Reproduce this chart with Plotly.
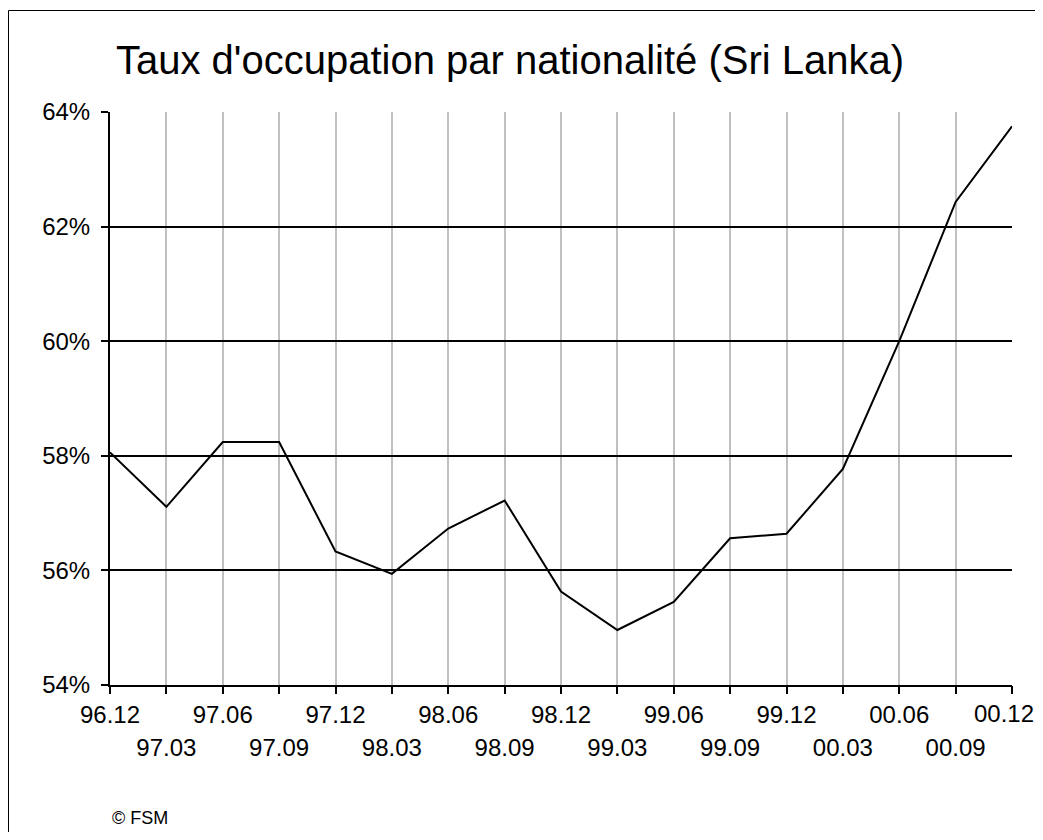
import plotly.graph_objects as go

periods = ["96.12", "97.03", "97.06", "97.09", "97.12", "98.03", "98.06", "98.09",
           "98.12", "99.03", "99.06", "99.09", "99.12", "00.03", "00.06", "00.09", "00.12"]
occupancy = [58.06, 57.11, 58.24, 58.24, 56.33, 55.94, 56.73, 57.22,
             55.63, 54.96, 55.45, 56.56, 56.64, 57.77, 60.00, 62.43, 63.75]
y_ticks = [54, 56, 58, 60, 62, 64]
title_text = "Taux d'occupation par nationalité (Sri Lanka)"
source_text = "© FSM"

# page body has an 8px margin; figure coordinates below are page coords minus 8
W, H = 1027, 824
L, R, T, B = 102, 1004, 104, 677
FONT = "Liberation Sans, Arial, sans-serif"

idx = list(range(len(periods)))
last = idx[-1]
even_idx = [i for i in idx if i % 2 == 0 and i != last]
odd_idx = [i for i in idx if i % 2 == 1]

fig = go.Figure()
fig.add_trace(go.Scatter(x=idx, y=occupancy, mode="lines",
                         line=dict(color="black", width=2), showlegend=False,
                         cliponaxis=False))
# invisible traces to activate the extra label axes
for ax in ("x2", "x3"):
    fig.add_trace(go.Scatter(x=[0], y=[54], xaxis=ax, mode="markers",
                             marker=dict(opacity=0), showlegend=False, hoverinfo="skip"))

xr = [0, len(periods) - 1]
tick_style = dict(ticks="outside", ticklen=7, tickwidth=2, tickcolor="black")
fig.update_layout(
    width=W, height=H,
    margin=dict(l=L, r=W - R, t=T, b=H - B, pad=0, autoexpand=False),
    paper_bgcolor="white", plot_bgcolor="white",
    font=dict(family=FONT, color="black", size=24),
    title=dict(text=title_text, font=dict(family=FONT, size=40, color="black"),
               x=108 / W, xanchor="left", xref="container",
               y=1 - 52 / H, yanchor="middle", yref="container", automargin=False),
    xaxis=dict(range=xr, tickmode="array",
               tickvals=idx, ticktext=[periods[i] if i in even_idx else "" for i in idx],
               showgrid=True, gridcolor="#c0c0c0", gridwidth=2,
               showline=True, linecolor="black", linewidth=2,
               zeroline=False, ticklabelstandoff=0, automargin=False,
               tickfont=dict(size=24), **tick_style),
    xaxis2=dict(range=xr, overlaying="x", anchor="y", side="bottom",
                tickmode="array", tickvals=odd_idx, ticktext=[periods[i] for i in odd_idx],
                showgrid=False, showline=False, ticks="", zeroline=False,
                ticklabelstandoff=46, automargin=False, tickfont=dict(size=24)),
    xaxis3=dict(range=xr, overlaying="x", anchor="y", side="bottom",
                tickmode="array", tickvals=[last], ticktext=[periods[last]],
                showgrid=False, showline=False, zeroline=False,
                ticklabelstandoff=0, ticklabelshift=-8, ticklabeloverflow="allow",
                automargin=False, tickfont=dict(size=24), **tick_style),
    yaxis=dict(range=[54, 64], tickmode="array", tickvals=y_ticks,
               ticktext=[f"{v}%" for v in y_ticks],
               showgrid=True, gridcolor="black", gridwidth=2,
               showline=True, linecolor="black", linewidth=2,
               zeroline=False, ticklabelstandoff=6, automargin=False,
               tickfont=dict(size=24), **tick_style),
)

fig.add_annotation(text=source_text, xref="paper", yref="paper",
                   x=0, y=(B - 810) / (B - T),
                   xanchor="left", yanchor="middle", showarrow=False,
                   font=dict(family=FONT, size=18, color="black"))

# outer frame: only its top and left edges fall inside the picture
fx0 = (0.5 - L) / (R - L)
fx1 = (W - L) / (R - L)
fy_top = (B - 2.5) / (B - T)
fy_bot = (B - H) / (B - T)
fig.add_shape(type="line", xref="paper", yref="paper", x0=fx0, x1=fx1, y0=fy_top, y1=fy_top,
              line=dict(color="black", width=1), layer="below")
fig.add_shape(type="line", xref="paper", yref="paper", x0=fx0, x1=fx0, y0=fy_top, y1=fy_bot,
              line=dict(color="black", width=1), layer="below")

fig.write_html("out.html")
